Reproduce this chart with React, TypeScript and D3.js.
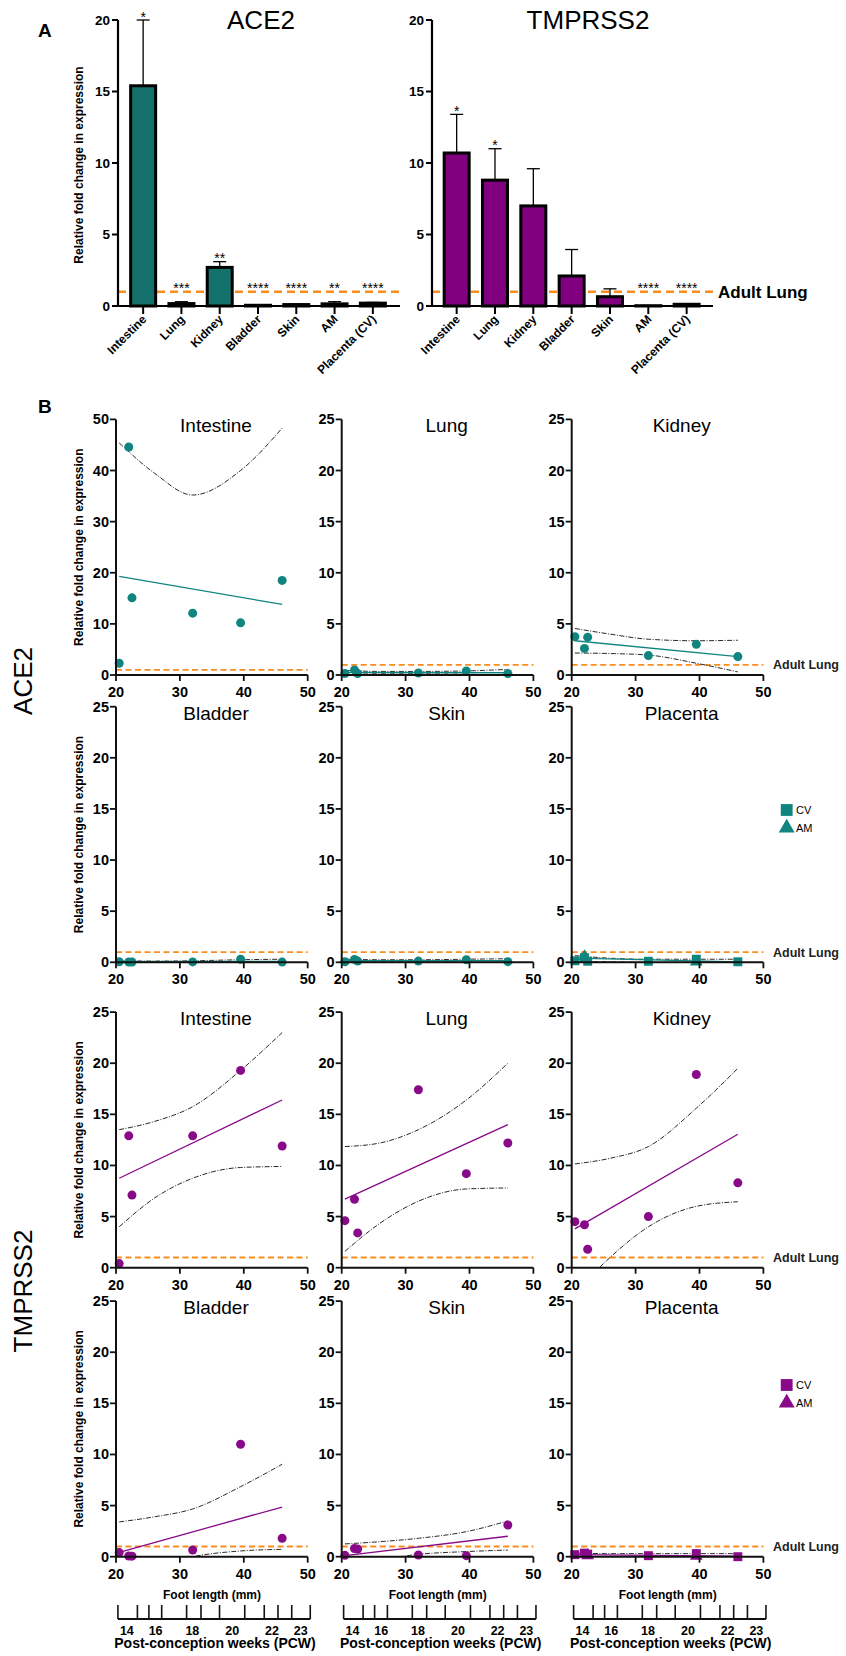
import React from 'react';
import * as d3 from 'd3';

const FONT = "'Liberation Sans', Arial, sans-serif";
const TEAL_BAR = '#13706b';
const TEAL_PT = '#10857f';
const PURPLE_BAR = '#800080';
const PURPLE_PT = '#880a88';
const ORANGE = '#fb8c1e';

// ---- panel A data ----
const tissuesA = ['Intestine', 'Lung', 'Kidney', 'Bladder', 'Skin', 'AM', 'Placenta (CV)'];
const yTicksA = [0, 5, 10, 15, 20];
const ace2Mean = [15.4, 0.17, 2.7, 0.05, 0.1, 0.15, 0.2];
const ace2ErrTop = [20.0, 0.3, 3.1, 0.07, 0.12, 0.3, 0.25];
const ace2Stars = ['*', '***', '**', '****', '****', '**', '****'];
const tmprss2Mean = [10.7, 8.8, 7.0, 2.1, 0.65, 0.02, 0.12];
const tmprss2ErrTop = [13.4, 11.0, 9.6, 3.95, 1.2, 0.03, 0.15];
const tmprss2Stars = ['*', '*', '', '', '', '****', '****'];

// ---- panel B data ----
const footLength = [20.5, 22, 22.5, 32, 39.5, 46];
const fitX = [20.5, 46];
const bandX = [20.5, 26, 32, 39.5, 46];
const xTicksB = [20, 30, 40, 50];

const ace2Intestine = [2.3, 44.6, 15.1, 12.1, 10.2, 18.5];
const ace2Lung = [0.15, 0.5, 0.15, 0.2, 0.4, 0.15];
const ace2Kidney = [3.75, 2.6, 3.7, 1.9, 3.0, 1.8];
const ace2Bladder = [0.05, 0.03, 0.03, 0.04, 0.3, 0.02];
const ace2Skin = [0.05, 0.28, 0.12, 0.12, 0.25, 0.06];
const ace2PlacentaCV = [0.15, 0.45, 0.1, 0.1, 0.3, 0.05];
const ace2PlacentaAM = [null, 0.55, null, null, 0.05, null];

const tmpIntestine = [0.4, 12.9, 7.1, 12.9, 19.3, 11.9];
const tmpLung = [4.6, 6.7, 3.4, 17.4, 9.2, 12.2];
const tmpKidney = [4.5, 4.2, 1.8, 5.0, 18.9, 8.3];
const tmpBladder = [0.4, 0.07, 0.05, 0.65, 11.0, 1.8];
const tmpSkin = [0.13, 0.8, 0.75, 0.17, 0.1, 3.1];
const tmpPlacentaCV = [0.2, 0.35, 0.25, 0.1, 0.3, 0.0];
const tmpPlacentaAM = [null, null, 0.1, null, 0.05, null];

// regression line (at fitX) and 95% band (at bandX)
const ace2IntestineFit = [19.3, 13.8];
const ace2IntestineUp = [45.4, 39.5, 35.2, 40.0, 48.3];
const ace2IntestineLo: number[] = [];
const ace2LungFit = [0.25, 0.22];
const ace2LungUp = [0.45, 0.35, 0.35, 0.4, 0.55];
const ace2LungLo = [0.05, 0.12, 0.12, 0.08, 0.0];
const ace2KidneyFit = [3.35, 1.8];
const ace2KidneyUp = [4.55, 4.0, 3.5, 3.35, 3.4];
const ace2KidneyLo = [2.15, 2.1, 1.95, 1.15, 0.3];
const ace2BladderFit = [0.06, 0.1];
const ace2BladderUp = [0.15, 0.12, 0.15, 0.25, 0.3];
const ace2BladderLo = [0.0, 0.02, 0.02, 0.0, 0.0];
const ace2SkinFit = [0.15, 0.15];
const ace2SkinUp = [0.3, 0.25, 0.25, 0.3, 0.35];
const ace2SkinLo = [0.0, 0.05, 0.05, 0.02, 0.0];
const ace2PlacentaFit = [0.4, 0.05];
const ace2PlacentaUp = [0.65, 0.4, 0.3, 0.3, 0.3];
const ace2PlacentaLo = [0.1, 0.05, 0.0, 0.0, 0.0];

const tmpIntestineFit = [8.75, 16.4];
const tmpIntestineUp = [13.5, 14.3, 15.75, 19.3, 23.0];
const tmpIntestineLo = [4.0, 6.8, 8.75, 9.8, 9.9];
const tmpLungFit = [6.7, 14.0];
const tmpLungUp = [11.85, 12.2, 13.5, 16.4, 20.0];
const tmpLungLo = [1.6, 4.35, 6.5, 7.7, 7.8];
const tmpKidneyFit = [3.8, 13.05];
const tmpKidneyUp = [10.15, 10.7, 11.85, 15.6, 19.5];
const tmpKidneyLo = [-2.5, 1.0, 4.0, 6.0, 6.45];
const tmpBladderFit = [0.43, 4.86];
const tmpBladderUp = [3.4, 3.9, 4.67, 6.85, 9.04];
const tmpBladderLo = [-2.5, -1.0, 0.0, 0.56, 0.72];
const tmpSkinFit = [0.1, 2.0];
const tmpSkinUp = [1.25, 1.47, 1.8, 2.45, 3.5];
const tmpSkinLo = [-0.9, -0.3, 0.23, 0.5, 0.65];
const tmpPlacentaFit = [0.2, 0.05];
const tmpPlacentaUp = [0.35, 0.3, 0.3, 0.3, 0.3];
const tmpPlacentaLo = [0.0, 0.0, 0.0, 0.0, 0.0];

// post-conception weeks axis, positions in foot length (mm)
const pcwTickMm = [20.3, 23.35, 25.15, 27.15, 31.05, 33.3, 36.2, 40.15, 43.2, 45.35, 47.5, 50.4];
const pcwLabels = ['14', '16', '18', '20', '22', '23'];
const pcwLabelMm = [21.7, 26.2, 31.95, 38.2, 44.4, 48.9];

type Panel = {
  title: string; values: number[]; am?: (number | null)[]; fit: number[];
  up: number[]; lo: number[]; yMax: number; color: string; square?: boolean;
};

const panels: Panel[][] = [
  [
    { title: 'Intestine', values: ace2Intestine, fit: ace2IntestineFit, up: ace2IntestineUp, lo: ace2IntestineLo, yMax: 50, color: TEAL_PT },
    { title: 'Lung', values: ace2Lung, fit: ace2LungFit, up: ace2LungUp, lo: ace2LungLo, yMax: 25, color: TEAL_PT },
    { title: 'Kidney', values: ace2Kidney, fit: ace2KidneyFit, up: ace2KidneyUp, lo: ace2KidneyLo, yMax: 25, color: TEAL_PT },
  ],
  [
    { title: 'Bladder', values: ace2Bladder, fit: ace2BladderFit, up: ace2BladderUp, lo: ace2BladderLo, yMax: 25, color: TEAL_PT },
    { title: 'Skin', values: ace2Skin, fit: ace2SkinFit, up: ace2SkinUp, lo: ace2SkinLo, yMax: 25, color: TEAL_PT },
    { title: 'Placenta', values: ace2PlacentaCV, am: ace2PlacentaAM, fit: ace2PlacentaFit, up: ace2PlacentaUp, lo: ace2PlacentaLo, yMax: 25, color: TEAL_PT, square: true },
  ],
  [
    { title: 'Intestine', values: tmpIntestine, fit: tmpIntestineFit, up: tmpIntestineUp, lo: tmpIntestineLo, yMax: 25, color: PURPLE_PT },
    { title: 'Lung', values: tmpLung, fit: tmpLungFit, up: tmpLungUp, lo: tmpLungLo, yMax: 25, color: PURPLE_PT },
    { title: 'Kidney', values: tmpKidney, fit: tmpKidneyFit, up: tmpKidneyUp, lo: tmpKidneyLo, yMax: 25, color: PURPLE_PT },
  ],
  [
    { title: 'Bladder', values: tmpBladder, fit: tmpBladderFit, up: tmpBladderUp, lo: tmpBladderLo, yMax: 25, color: PURPLE_PT },
    { title: 'Skin', values: tmpSkin, fit: tmpSkinFit, up: tmpSkinUp, lo: tmpSkinLo, yMax: 25, color: PURPLE_PT },
    { title: 'Placenta', values: tmpPlacentaCV, am: tmpPlacentaAM, fit: tmpPlacentaFit, up: tmpPlacentaUp, lo: tmpPlacentaLo, yMax: 25, color: PURPLE_PT, square: true },
  ],
];

// layout
const COL_X = [116, 341.7, 571.7];
const PLOT_W = 191.7;
const ROW_ZERO = [675, 962.3, 1267.7, 1556.7];
const PLOT_H = 255.6;
const TITLE_DX = [100, 105, 110];

function BarPanel({ title, means, errs, stars, color, x0, x1, r0, r1, titleX }: any) {
  const y = d3.scaleLinear().domain([0, 20]).range([306, 20]);
  const x = d3.scalePoint<string>().domain(tissuesA).range([r0, r1]).padding(0.5);
  const y0 = y(0);
  return (
    <g>
      <text x={titleX} y={29} fontSize={26} textAnchor="middle">{title}</text>
      <line x1={x0} x2={x1} y1={y(1)} y2={y(1)} stroke={ORANGE} strokeWidth={2.5} strokeDasharray="8 5" />
      {tissuesA.map((t, i) => {
        const cx = x(t)!;
        const top = y(means[i]);
        const et = y(errs[i]);
        return (
          <g key={t}>
            <line x1={cx} x2={cx} y1={top} y2={et} stroke="#000" strokeWidth={1.3} />
            <line x1={cx - 6.5} x2={cx + 6.5} y1={et} y2={et} stroke="#000" strokeWidth={1.3} />
            <rect x={cx - 12.5} y={top} width={25} height={Math.max(0.01, y0 - top)} fill={color} stroke="#000" strokeWidth={3} />
            {stars[i] && (
              <text x={cx} y={y(Math.max(errs[i], 1)) + 1.5} fontSize={14} textAnchor="middle">{stars[i]}</text>
            )}
            <line x1={cx} x2={cx} y1={y0} y2={y0 + 8} stroke="#000" strokeWidth={2} />
            <text transform={`translate(${cx + 4},${y0 + 14}) rotate(-45)`} textAnchor="end" fontSize={12} fontWeight="bold">{t}</text>
          </g>
        );
      })}
      <line x1={x0} x2={x0} y1={y(20)} y2={y0} stroke="#000" strokeWidth={2.2} />
      <line x1={x0} x2={x1} y1={y0} y2={y0} stroke="#000" strokeWidth={2.2} />
      {yTicksA.map(v => (
        <g key={v}>
          <line x1={x0 - 6} x2={x0} y1={y(v)} y2={y(v)} stroke="#000" strokeWidth={2} />
          <text x={x0 - 8} y={y(v) + 4.5} textAnchor="end" fontSize={13.5} fontWeight="bold">{v}</text>
        </g>
      ))}
    </g>
  );
}

function ScatterPanel({ p, row, col }: { p: Panel; row: number; col: number }) {
  const ax = COL_X[col];
  const zero = ROW_ZERO[row];
  const top = zero - PLOT_H;
  const x = d3.scaleLinear().domain([20, 50]).range([ax, ax + PLOT_W]);
  const y = d3.scaleLinear().domain([0, p.yMax]).range([zero, top]);
  const yTicks = d3.range(0, p.yMax + 0.01, p.yMax / 5);
  const band = d3.line<number>().x((_, i) => x(bandX[i])).y(d => y(d)).curve(d3.curveMonotoneX);
  const fitLine = d3.line<number>().x((_, i) => x(fitX[i])).y(d => y(d));
  const clipId = `clip-${row}-${col}`;
  const sq = d3.symbol(d3.symbolSquare, 80)()!;
  const tri = d3.symbol(d3.symbolTriangle, 70)()!;
  return (
    <g>
      <defs>
        <clipPath id={clipId}>
          <rect x={ax} y={top} width={PLOT_W} height={PLOT_H} />
        </clipPath>
      </defs>
      <text x={ax + TITLE_DX[col]} y={top + 13} fontSize={19} textAnchor="middle">{p.title}</text>
      <line x1={ax} x2={ax + PLOT_W} y1={y(1)} y2={y(1)} stroke={ORANGE} strokeWidth={1.8} strokeDasharray="6 3.5" />
      <g clipPath={`url(#${clipId})`} fill="none">
        {p.up.length > 0 && <path d={band(p.up)!} stroke="#111" strokeWidth={0.9} strokeDasharray="5 1.5 1 1.5" />}
        {p.lo.length > 0 && <path d={band(p.lo)!} stroke="#111" strokeWidth={0.9} strokeDasharray="5 1.5 1 1.5" />}
        <path d={fitLine(p.fit)!} stroke={p.color} strokeWidth={1.3} />
      </g>
      {p.values.map((v, i) => (
        p.square
          ? <path key={i} d={sq} transform={`translate(${x(footLength[i])},${y(v)})`} fill={p.color} />
          : <circle key={i} cx={x(footLength[i])} cy={y(v)} r={4.5} fill={p.color} />
      ))}
      {p.am && p.am.map((v, i) => v == null ? null : (
        <path key={'am' + i} d={tri} transform={`translate(${x(footLength[i])},${y(v)})`} fill={p.color} />
      ))}
      <line x1={ax} x2={ax} y1={top} y2={zero} stroke="#111" strokeWidth={2} />
      <line x1={ax} x2={ax + PLOT_W} y1={zero} y2={zero} stroke="#111" strokeWidth={2} />
      {yTicks.map(v => (
        <g key={v}>
          <line x1={ax - 6} x2={ax} y1={y(v)} y2={y(v)} stroke="#111" strokeWidth={1.8} />
          <text x={ax - 7} y={y(v) + 5} textAnchor="end" fontSize={14.5} fontWeight="bold">{v}</text>
        </g>
      ))}
      {xTicksB.map(v => (
        <g key={v}>
          <line x1={x(v)} x2={x(v)} y1={zero} y2={zero + 6} stroke="#111" strokeWidth={1.8} />
          <text x={x(v)} y={zero + 22} textAnchor="middle" fontSize={14.5} fontWeight="bold">{v}</text>
        </g>
      ))}
      {col === 0 && (
        <text transform={`translate(83,${zero - PLOT_H / 2}) rotate(-90)`} textAnchor="middle" fontSize={12} fontWeight="bold">
          Relative fold change in expression
        </text>
      )}
      {col === 2 && (
        <text x={773} y={y(1) + 4.5} fontSize={12.5} fontWeight="bold" fill="#222">Adult Lung</text>
      )}
    </g>
  );
}

function PcwAxis({ col }: { col: number }) {
  const ax = COL_X[col];
  const x = d3.scaleLinear().domain([20, 50]).range([ax, ax + PLOT_W]);
  const ly = 1619;
  return (
    <g>
      <text x={ax + 96} y={1599} textAnchor="middle" fontSize={12} fontWeight="bold">Foot length (mm)</text>
      <line x1={x(pcwTickMm[0])} x2={x(pcwTickMm[pcwTickMm.length - 1])} y1={ly} y2={ly} stroke="#111" strokeWidth={2} />
      {pcwTickMm.map((m, i) => (
        <line key={i} x1={x(m)} x2={x(m)} y1={ly} y2={ly - 14} stroke="#111" strokeWidth={1.6} />
      ))}
      {pcwLabels.map((l, i) => (
        <text key={l} x={x(pcwLabelMm[i])} y={1635} textAnchor="middle" fontSize={12.5} fontWeight="bold">{l}</text>
      ))}
      <text x={ax + 99} y={1648} textAnchor="middle" fontSize={14} fontWeight="bold">Post-conception weeks (PCW)</text>
    </g>
  );
}

function Legend({ cy, color }: { cy: number; color: string }) {
  const sq = d3.symbol(d3.symbolSquare, 140)()!;
  const tri = d3.symbol(d3.symbolTriangle, 110)()!;
  return (
    <g>
      <path d={sq} transform={`translate(786.7,${cy})`} fill={color} />
      <text x={796} y={cy + 4} fontSize={11}>CV</text>
      <path d={tri} transform={`translate(786.7,${cy + 18})`} fill={color} />
      <text x={796} y={cy + 22} fontSize={11}>AM</text>
    </g>
  );
}

export default function App() {
  return (
    <svg width={846} height={1656} style={{ position: 'absolute', left: 0, top: 0, background: '#fff' }} fontFamily={FONT}>
      <rect width={846} height={1656} fill="#fff" />
      <text x={38} y={37} fontSize={19} fontWeight="bold">A</text>
      <text x={38} y={413} fontSize={19} fontWeight="bold">B</text>

      <text transform="translate(83,165) rotate(-90)" textAnchor="middle" fontSize={12} fontWeight="bold">
        Relative fold change in expression
      </text>
      <BarPanel title="ACE2" means={ace2Mean} errs={ace2ErrTop} stars={ace2Stars} color={TEAL_BAR}
        x0={118} x1={400} r0={124} r1={392} titleX={261} />
      <BarPanel title="TMPRSS2" means={tmprss2Mean} errs={tmprss2ErrTop} stars={tmprss2Stars} color={PURPLE_BAR}
        x0={432} x1={713} r0={437.5} r1={705.8} titleX={588} />
      <text x={718} y={298} fontSize={17} fontWeight="bold">Adult Lung</text>

      <text transform="translate(32,681) rotate(-90)" textAnchor="middle" fontSize={26}>ACE2</text>
      <text transform="translate(32,1291) rotate(-90)" textAnchor="middle" fontSize={26}>TMPRSS2</text>

      {panels.map((row, r) => row.map((p, c) => (
        <ScatterPanel key={`${r}-${c}`} p={p} row={r} col={c} />
      )))}

      <Legend cy={810} color={TEAL_PT} />
      <Legend cy={1385} color={PURPLE_PT} />

      {[0, 1, 2].map(c => <PcwAxis key={c} col={c} />)}
    </svg>
  );
}
